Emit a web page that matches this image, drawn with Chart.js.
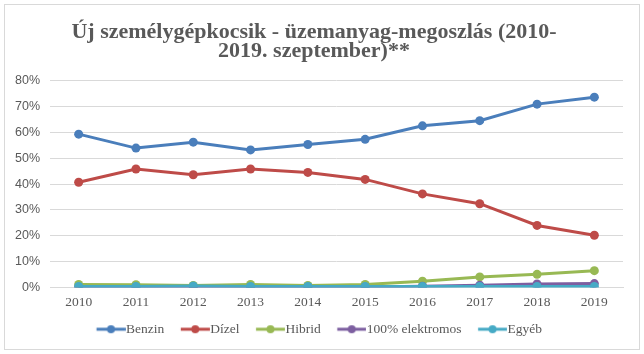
<!DOCTYPE html>
<html>
<head>
<meta charset="utf-8">
<script src="https://cdn.jsdelivr.net/npm/chart.js@4/dist/chart.umd.min.js"></script>
<style>
  html, body { margin: 0; padding: 0; background: #fff; }
  #wrap { position: relative; width: 644px; height: 354px; }
  #frame { position: absolute; left: 4px; top: 4px; width: 634px; height: 344px; border: 1px solid #d9d9d9; pointer-events: none; }
</style>
</head>
<body>
<div id="wrap">
  <canvas id="chart" width="644" height="354"></canvas>
  <div id="frame"></div>
</div>
<script>
const years = ['2010', '2011', '2012', '2013', '2014', '2015', '2016', '2017', '2018', '2019'];
const benzin = [59.3, 53.9, 56.2, 53.2, 55.3, 57.3, 62.5, 64.5, 70.9, 73.6];
const dizel = [40.7, 45.8, 43.6, 45.8, 44.5, 41.8, 36.2, 32.4, 24.0, 20.2];
const hibrid = [1.2, 1.1, 0.8, 1.2, 0.8, 1.2, 2.4, 4.1, 5.1, 6.5];
const elektromos = [0.1, 0.1, 0.1, 0.1, 0.2, 0.2, 0.5, 0.9, 1.4, 1.5];
const egyeb = [0.4, 0.4, 0.6, 0.4, 0.4, 0.4, 0.4, 0.4, 0.4, 0.4];
const yTicks = [0, 10, 20, 30, 40, 50, 60, 70, 80];

const textColor = '#595959';
const gridColor = '#d9d9d9';

// legend marker: line with a dot, drawn right of centre so the
// label sits close to it like in Excel
function legendMarker(color) {
    const c = document.createElement('canvas');
    c.width = 46;
    c.height = 10;
    const ctx = c.getContext('2d');
    ctx.strokeStyle = color;
    ctx.lineWidth = 3;
    ctx.beginPath();
    ctx.moveTo(16.9, 5);
    ctx.lineTo(45.9, 5);
    ctx.stroke();
    ctx.fillStyle = color;
    ctx.beginPath();
    ctx.arc(31.4, 5, 4, 0, Math.PI * 2);
    ctx.fill();
    return c;
}

function series(label, data, color, order) {
    return {
        label,
        data,
        borderColor: color,
        backgroundColor: color,
        borderWidth: 3,
        pointRadius: 4.5,
        pointBorderWidth: 0,
        pointStyle: 'circle',
        tension: 0,
        order,
        legendMarker: legendMarker(color)
    };
}

new Chart(document.getElementById('chart'), {
    type: 'line',
    data: {
        labels: years,
        datasets: [
            series('Benzin', benzin, '#4a7ebb', 5),
            series('Dízel', dizel, '#be4b48', 4),
            series('Hibrid', hibrid, '#98b954', 3),
            series('100% elektromos', elektromos, '#7d5fa0', 2),
            series('Egyéb', egyeb, '#46aac5', 1)
        ]
    },
    options: {
        responsive: false,
        animation: false,
        layout: { padding: { left: 5, right: 21, top: 22, bottom: 8 } },
        scales: {
            x: {
                offset: true,
                grid: { display: false, drawTicks: false },
                border: { color: gridColor },
                ticks: {
                    color: textColor,
                    font: { family: 'Liberation Serif', size: 13.5, lineHeight: 2 },
                    padding: 1
                }
            },
            y: {
                min: 0,
                max: 80,
                afterBuildTicks: axis => { axis.ticks = yTicks.map(v => ({ value: v })); },
                grid: { color: gridColor, lineWidth: 1, drawTicks: false },
                border: { display: false },
                ticks: {
                    color: textColor,
                    font: { family: 'Liberation Sans', size: 12.5 },
                    padding: 10,
                    callback: v => v + '%'
                }
            }
        },
        plugins: {
            title: {
                display: true,
                text: ['Új személygépkocsik - üzemanyag-megoszlás (2010-', '2019. szeptember)**'],
                color: textColor,
                font: { family: 'Liberation Serif', size: 22, weight: 'bold', lineHeight: 0.9 },
                padding: { top: 0, bottom: 19 }
            },
            legend: {
                position: 'bottom',
                labels: {
                    color: textColor,
                    font: { family: 'Liberation Serif', size: 13.5, lineHeight: 1 },
                    usePointStyle: true,
                    pointStyleWidth: 33.25,
                    padding: 6,
                    sort: (a, b) => a.datasetIndex - b.datasetIndex,
                    generateLabels: chart => chart.data.datasets.map((ds, i) => ({
                        text: ds.label,
                        fontColor: textColor,
                        pointStyle: ds.legendMarker,
                        datasetIndex: i,
                        hidden: false,
                        lineWidth: 0
                    }))
                }
            },
            tooltip: { enabled: false }
        }
    }
});
</script>
</body>
</html>
